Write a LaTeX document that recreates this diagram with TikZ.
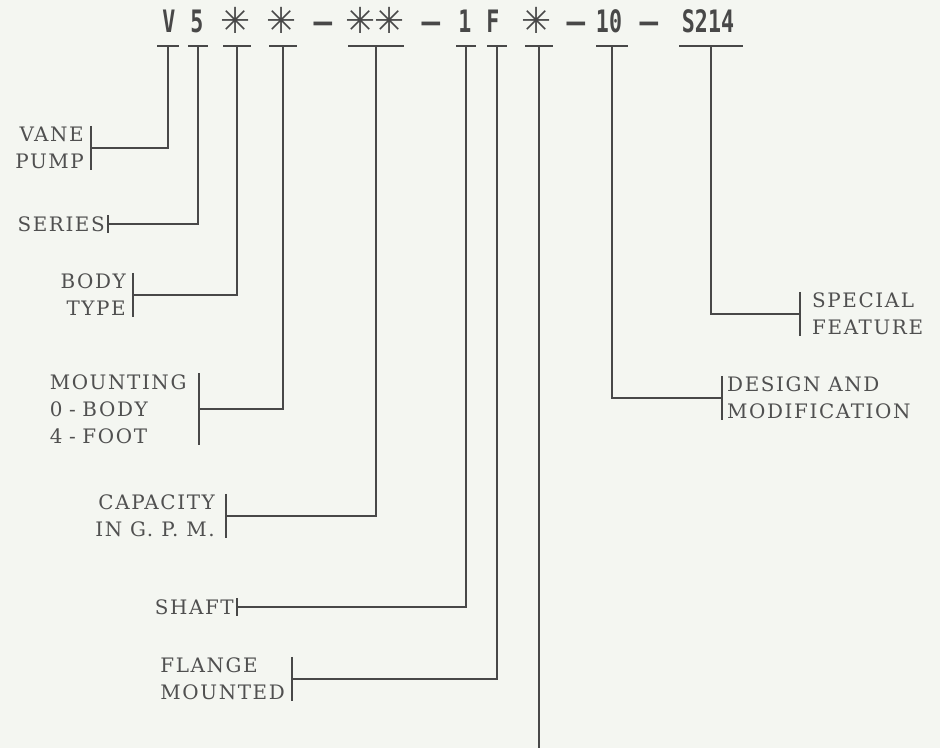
\documentclass[tikz,border=0pt]{standalone}
\usepackage{fontspec}
\usepackage{tikz}
\usetikzlibrary{positioning, calc}
\newfontfamily\codefont{DejaVu Sans Mono}
\newfontfamily\starfont{DejaVu Sans}
\newfontfamily\lblfont{DejaVu Serif}[LetterSpace=8]
\definecolor{paper}{RGB}{244,246,241}
\definecolor{ink}{RGB}{72,72,72}
\definecolor{textgray}{RGB}{80,80,80}
\newcommand{\narrow}[1]{\scalebox{0.7}[1]{#1}}

\begin{document}
\begin{tikzpicture}[x=1bp, y=-1bp,
  code/.style={font=\codefont\fontsize{31}{31}\selectfont\bfseries, text=ink, anchor=base, inner sep=0pt},
  star/.style={font=\starfont\fontsize{36}{36}\selectfont, text=ink, anchor=base, inner sep=0pt},
  lbl/.style={font=\lblfont\fontsize{20}{27}\selectfont, text=textgray, inner ysep=1bp, inner xsep=7bp},
  tickline/.style={draw=ink, line width=1.1bp},
  conn/.style={draw=ink, line width=1.1bp}
]
\fill[paper] (0,0) rectangle (940,748);
\useasboundingbox (0,0) rectangle (940,748);

% model code
\node[code] (cV) at (169,33) {\narrow{V}};
\node[code] (c5) at (197,33) {\narrow{5}};
\node[star] (cA) at (236,34) {✳};
\node[star] (cB) at (282,34) {✳};
\node[code] (d1) at (323,33) {–};
\node[star] (cC) at (375,34) {✳\kern-2bp✳};
\node[code] (d2) at (431,33) {–};
\node[code] (c1) at (465,33) {\narrow{1}};
\node[code] (cF) at (493,33) {\narrow{F}};
\node[star] (cD) at (537,34) {✳};
\node[code] (d3) at (576,33) {–};
\node[code] (c10) at (609,33) {\narrow{10}};
\node[code] (d4) at (649,33) {–};
\node[code] (cS) at (708,33) {\narrow{S214}};

% tees under the code
\foreach \n/\x/\w in {V/168/11, 5/198/10, A/237/14, B/283/14, C/376/28,
                      1/466/10, F/497/10, D/539/14, 10/612/16, S/711/32} {
  \coordinate (t\n) at (\x,46);
  \draw[conn] (t\n) ++(-\w,0) -- ++(2*\w,0);
}

% labels, left side
\node[lbl, anchor=east, align=right] (vane) at (91,148) {VANE\\PUMP};
\node[lbl, anchor=east, inner xsep=3bp] (series) at (108,224) {SERIES};
\node[lbl, anchor=east, align=right] (body) at (133,295) {BODY\\TYPE};
\node[lbl, anchor=east, align=left, text width=142bp] (mount) at (199,409) {MOUNTING\\0 - BODY\\4 - FOOT};
\node[lbl, anchor=east, align=right, inner xsep=11bp] (capacity) at (226,516) {CAPACITY\\IN G. P. M.};
\node[lbl, anchor=east, inner xsep=3bp] (shaft) at (237,607) {SHAFT};
\node[lbl, anchor=east, align=left] (flange) at (292,679) {FLANGE\\MOUNTED};

% labels, right side
\node[lbl, anchor=west, align=left, inner xsep=12bp] (special) at (800,314) {SPECIAL\\FEATURE};
\node[lbl, anchor=west, align=left, inner xsep=5bp] (design) at (722,398) {DESIGN AND\\MODIFICATION};

% ticks
\foreach \l in {vane, series, body, mount, capacity, shaft, flange}
  \draw[tickline] (\l.north east) -- (\l.south east);
\foreach \l in {special, design}
  \draw[tickline] (\l.north west) -- (\l.south west);

% connectors
\coordinate (offpage) at (539,748);
\draw[conn] (tV) |- (vane.east);
\draw[conn] (t5) |- (series.east);
\draw[conn] (tA) |- (body.east);
\draw[conn] (tB) |- (mount.east);
\draw[conn] (tC) |- (capacity.east);
\draw[conn] (t1) |- (shaft.east);
\draw[conn] (tF) |- (flange.east);
\draw[conn] (tD) -- (offpage);
\draw[conn] (t10) |- (design.west);
\draw[conn] (tS) |- (special.west);

\end{tikzpicture}
\end{document}
